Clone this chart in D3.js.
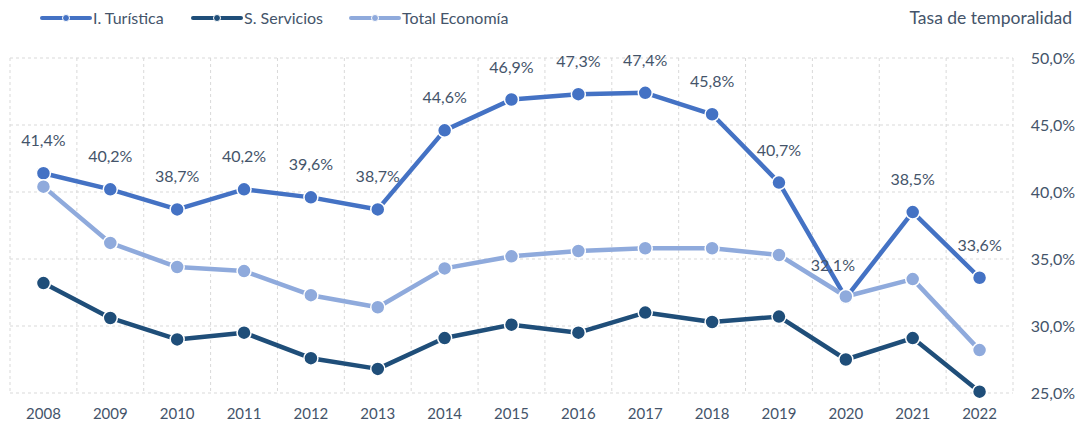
<!DOCTYPE html>
<head>
    <meta charset="utf-8">
    <script src="https://d3js.org/d3.v7.min.js"></script>
    <style>
        body { margin: 0; background: #fff; font-family: Lato, "Noto Sans", sans-serif; }
        .grid line { stroke: #d9d9d9; stroke-width: 1; stroke-dasharray: 3,3; }
        text { fill: #44546a; }
    </style>
</head>
<body>
    <svg id="svg" width="1082" height="427"></svg>
    <script>
    // data
    const years = ["2008","2009","2010","2011","2012","2013","2014","2015","2016","2017","2018","2019","2020","2021","2022"];
    const turistica = [41.4, 40.2, 38.7, 40.2, 39.6, 38.7, 44.6, 46.9, 47.3, 47.4, 45.8, 40.7, 32.1, 38.5, 33.6];
    const servicios = [33.2, 30.6, 29.0, 29.5, 27.6, 26.8, 29.1, 30.1, 29.5, 31.0, 30.3, 30.7, 27.5, 29.1, 25.1];
    const total = [40.4, 36.2, 34.4, 34.1, 32.3, 31.4, 34.3, 35.2, 35.6, 35.8, 35.8, 35.3, 32.2, 33.5, 28.2];
    const yTicks = [25, 30, 35, 40, 45, 50];
    const seriesNames = ["I. Turística", "S. Servicios", "Total Economía"];

    const colors = { "I. Turística": "#4472c4", "S. Servicios": "#1f4e79", "Total Economía": "#8faadc" };
    const series = [
        { name: "I. Turística", values: turistica },
        { name: "S. Servicios", values: servicios },
        { name: "Total Economía", values: total }
    ];

    const svg = d3.select("#svg");
    const pLeft = 10, pRight = 1013, pTop = 58, pBottom = 393;
    const fmt = v => d3.format(".1f")(v).replace(".", ",") + "%";

    const x = d3.scaleBand().domain(years).range([pLeft, pRight]);
    const y = d3.scaleLinear().domain([25, 50]).range([pBottom, pTop]);
    const cx = d => x(d) + x.bandwidth() / 2;

    // grid
    const grid = svg.append("g").attr("class", "grid");
    grid.selectAll(".h").data(yTicks).enter().append("line")
        .attr("x1", pLeft).attr("x2", pRight)
        .attr("y1", d => y(d)).attr("y2", d => y(d));
    grid.selectAll(".v").data(years.concat(["end"])).enter().append("line")
        .attr("x1", d => d === "end" ? pRight : x(d))
        .attr("x2", d => d === "end" ? pRight : x(d))
        .attr("y1", pTop).attr("y2", pBottom);

    // axes
    const yAxis = d3.axisRight(y).tickValues(yTicks).tickFormat(fmt).tickSize(0);
    svg.append("g").attr("transform", "translate(" + (pRight + 62) + ",0)").call(yAxis)
        .call(g => g.select(".domain").remove())
        .selectAll("text").attr("x", 0).attr("text-anchor", "end")
        .style("font-size", "16px").style("font-family", "Lato, sans-serif").attr("fill", "#44546a");

    const xAxis = d3.axisBottom(x).tickSize(0);
    svg.append("g").attr("transform", "translate(0," + pBottom + ")").call(xAxis)
        .call(g => g.select(".domain").remove())
        .selectAll("text").attr("dy", "1.55em")
        .style("font-size", "15px").style("font-family", "Lato, sans-serif").attr("fill", "#44546a");

    // lines
    const line = d3.line().x((d, i) => cx(years[i])).y(d => y(d));
    const sg = svg.selectAll(".series").data(series).enter().append("g");
    sg.append("path")
        .attr("d", d => line(d.values))
        .attr("fill", "none")
        .attr("stroke", d => colors[d.name])
        .attr("stroke-width", 4.5)
        .attr("stroke-linejoin", "round");
    sg.selectAll("circle").data(d => d.values.map((v, i) => ({ v: v, i: i, name: d.name }))).enter()
        .append("circle")
        .attr("cx", d => cx(years[d.i]))
        .attr("cy", d => y(d.v))
        .attr("r", 7)
        .attr("fill", d => colors[d.name])
        .attr("stroke", "#fff")
        .attr("stroke-width", 1.5);

    // labels for I. Turística
    svg.append("g").selectAll("text").data(turistica).enter().append("text")
        .attr("x", (d, i) => cx(years[i]) + (years[i] === "2020" ? -13 : 0))
        .attr("y", d => y(d) - 27)
        .attr("text-anchor", "middle")
        .style("font-size", "16px")
        .text(fmt);

    // legend
    const legX = [42, 193, 351];
    const leg = svg.append("g").selectAll("g").data(seriesNames).enter().append("g")
        .attr("transform", (d, i) => "translate(" + legX[i] + ",18)");
    leg.append("line").attr("x1", 0).attr("x2", 48).attr("y1", 0).attr("y2", 0)
        .attr("stroke", d => colors[d]).attr("stroke-width", 4).attr("stroke-linecap", "round");
    leg.append("circle").attr("cx", 24).attr("cy", 0).attr("r", 3.5)
        .attr("fill", d => colors[d]).attr("stroke", "#fff").attr("stroke-width", 1);
    leg.append("text").attr("x", 51).attr("y", 0).attr("dy", "0.35em")
        .style("font-size", "16px").text(d => d);

    svg.append("text").attr("x", 1072).attr("y", 18).attr("dy", "0.35em")
        .attr("text-anchor", "end").style("font-size", "17.5px").text("Tasa de temporalidad");
    </script>
</body>
